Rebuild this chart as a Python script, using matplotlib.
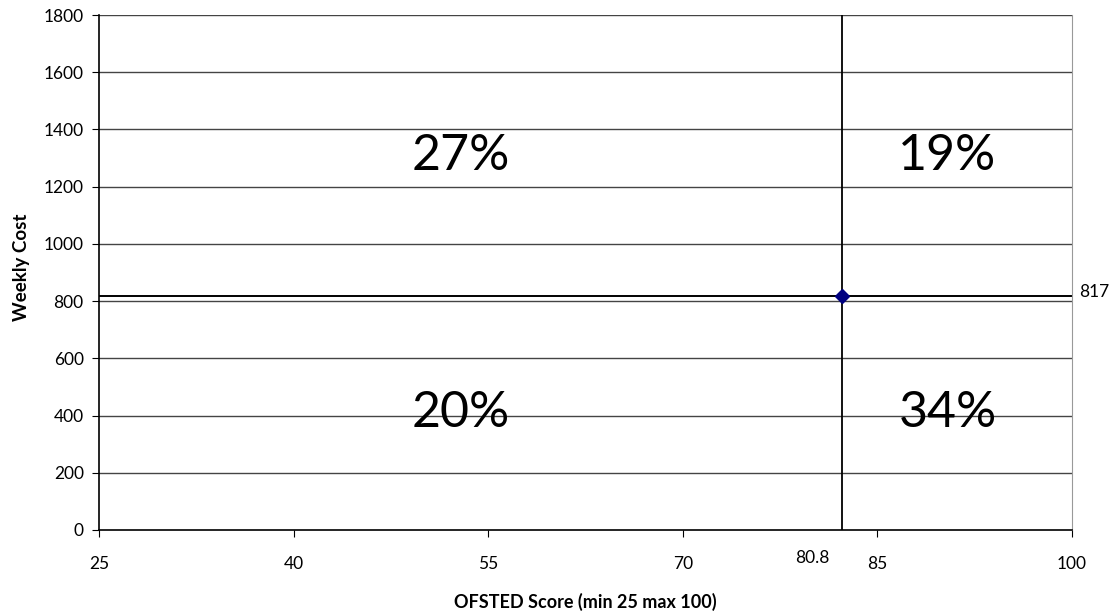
import matplotlib
matplotlib.use("Agg")
import matplotlib.pyplot as plt

plt.rcParams['font.family'] = ['Lato', 'DejaVu Sans']

x_ticks = [25, 40, 55, 70, 85, 100]
y_ticks = [0, 200, 400, 600, 800, 1000, 1200, 1400, 1600, 1800]
avg_score_label = "80.8"
avg_score_pos = 82.3   # where the vertical line sits on the drawn axis
avg_cost = 817
quadrant_labels = ["27%", "19%", "20%", "34%"]
x_label = "OFSTED Score (min 25 max 100)"
y_label = "Weekly Cost"

fig = plt.figure(figsize=(11.19, 6.12), dpi=100)
ax = fig.add_axes([99/1119, 1 - 530/612, (1072-99)/1119, (530-15)/612])

ax.set_xlim(25, 100)
ax.set_ylim(0, 1800)
ax.set_xticks(x_ticks)
ax.set_yticks(y_ticks)
for y in y_ticks[1:]:
    ax.axhline(y, color='#444444', lw=1.0, zorder=1)

ax.axvline(avg_score_pos, color='black', lw=1.3, zorder=2)
ax.axhline(avg_cost, color='black', lw=1.4, zorder=2)
ax.plot([avg_score_pos], [avg_cost], marker='D', color='#000080', ms=7, zorder=3)

ax.text(100.55, avg_cost + 15, str(avg_cost), va='center', ha='left', fontsize=12.5, clip_on=False)
ax.text(avg_score_pos - 2.3, -70, avg_score_label, va='top', ha='center', fontsize=12.5, clip_on=False)

xl = (25 + 80.8) / 2
xr = (80.8 + 100) / 2
yu = (avg_cost + 1800) / 2
yd = avg_cost / 2
for (xx, yy), lab in zip([(xl, yu), (xr, yu), (xl, yd), (xr, yd)], quadrant_labels):
    ax.text(xx, yy, lab, ha='center', va='center', fontsize=36)

for s in ['left', 'bottom']:
    ax.spines[s].set_color('black')
    ax.spines[s].set_linewidth(1.2)
ax.spines['top'].set_visible(False)
ax.spines['right'].set_color('#999999')

ax.tick_params(axis='x', direction='out', length=5, pad=14, labelsize=12.5)
ax.tick_params(axis='y', direction='out', length=5, pad=6, labelsize=12.5)

ax.set_xlabel(x_label, fontsize=13, fontweight='bold', labelpad=15)
ax.set_ylabel(y_label, fontsize=13.5, fontweight='bold', labelpad=12)
ax.yaxis.set_label_coords(-0.071, 0.51)

fig.savefig("out.png", dpi=100)
